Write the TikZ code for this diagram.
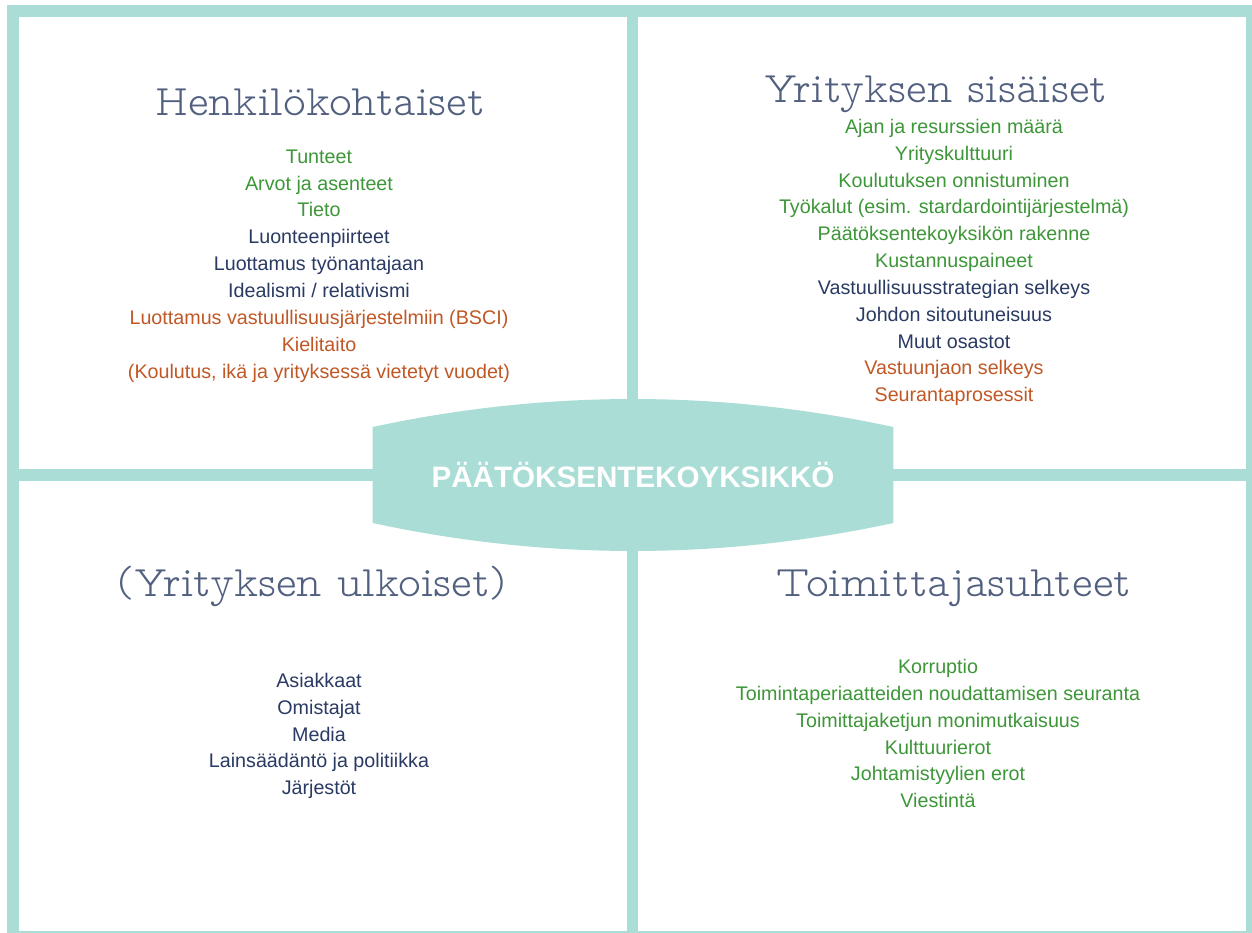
\documentclass[tikz,border=0pt]{standalone}
\usepackage{fontspec}
\setmainfont{Liberation Sans}
\newfontfamily\titlefont{lmmonoproplt10-regular.otf}
\definecolor{frameteal}{RGB}{170,221,214}
\definecolor{tgreen}{RGB}{61,150,56}
\definecolor{tnavy}{RGB}{42,58,99}
\definecolor{torange}{RGB}{192,88,38}
\definecolor{ttitle}{RGB}{82,96,128}
\begin{document}
\begin{tikzpicture}[x=1pt,y=-1pt,
  item/.style={anchor=base, inner sep=0pt, font=\fontsize{19.7}{22}\selectfont},
  qtitle/.style={anchor=base, inner sep=0pt, text=ttitle, font=\titlefont\fontsize{43.5}{46}\selectfont},
  panel/.style={fill=white},
  cg/.style={text=tgreen}, cn/.style={text=tnavy}, co/.style={text=torange}]
\useasboundingbox (0,0) rectangle (1252,933);
\fill[white] (0,0) rectangle (1252,933);
\fill[frameteal] (7,5) rectangle (1252,933);
\fill[panel] (19,17.5) rectangle (627,469);
\fill[panel] (638,17.5) rectangle (1246,469);
\fill[panel] (19,481) rectangle (627,931);
\fill[panel] (638,481) rectangle (1246,931);
% centre shape
\fill[frameteal] (372.7,427) .. controls (545.9,389.7) and (720.1,389.7) .. (893.3,427)
  -- (893.3,523) .. controls (720.1,560.3) and (545.9,560.3) .. (372.7,523) -- cycle;
\node[anchor=base, inner sep=0pt, text=white, font=\bfseries\fontsize{29.6}{32}\selectfont] (core) at (633,487) {PÄÄTÖKSENTEKOYKSIKKÖ};
% titles
\node[qtitle] (t1) at (320,116) {Henkilökohtaiset};
\node[qtitle] (t2) at (936,103) {Yrityksen sisäiset};
\node[qtitle] (t3) at (312,596) {(Yrityksen ulkoiset)};
\node[qtitle] (t4) at (954,596) {Toimittajasuhteet};
% lists
\foreach \c/\t [count=\i] in {cg/Tunteet, cg/Arvot ja asenteet, cg/Tieto, cn/Luonteenpiirteet, cn/Luottamus työnantajaan, cn/{Idealismi / relativismi}, co/Luottamus vastuullisuusjärjestelmiin (BSCI), co/Kielitaito, co/{(Koulutus, ikä ja yrityksessä vietetyt vuodet)}}
  \node[item, \c] (a\i) at (319,163.3+26.85*\i-26.85) {\t};
\foreach \c/\t [count=\i] in {cg/Ajan ja resurssien määrä, cg/Yrityskulttuuri, cg/Koulutuksen onnistuminen, cg/Työkalut (esim. stardardointijärjestelmä), cg/Päätöksentekoyksikön rakenne, cg/Kustannuspaineet, cn/Vastuullisuusstrategian selkeys, cn/Johdon sitoutuneisuus, cn/Muut osastot, co/Vastuunjaon selkeys, co/Seurantaprosessit}
  \node[item, \c] (b\i) at (954,133.6+26.8*\i-26.8) {\t};
\foreach \c/\t [count=\i] in {cn/Asiakkaat, cn/Omistajat, cn/Media, cn/Lainsäädäntö ja politiikka, cn/Järjestöt}
  \node[item, \c] (c\i) at (319,687.6+26.75*\i-26.75) {\t};
\foreach \c/\t [count=\i] in {cg/Korruptio, cg/Toimintaperiaatteiden noudattamisen seuranta, cg/Toimittajaketjun monimutkaisuus, cg/Kulttuurierot, cg/Johtamistyylien erot, cg/Viestintä}
  \node[item, \c] (d\i) at (938,673.6+26.8*\i-26.8) {\t};
\end{tikzpicture}
\end{document}
